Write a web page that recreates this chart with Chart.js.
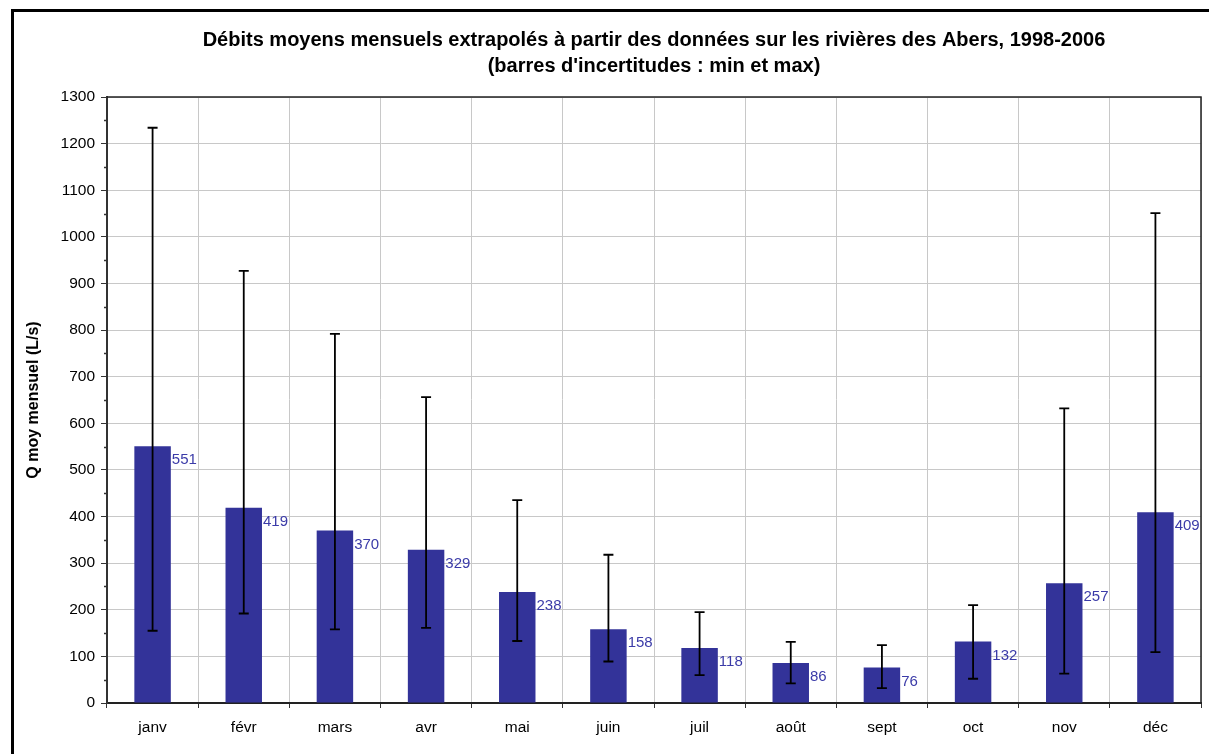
<!DOCTYPE html>
<html>
<head>
<meta charset="utf-8">
<script src="https://cdn.jsdelivr.net/npm/chart.js@4"></script>
<style>
html,body{margin:0;padding:0;background:#fff;}
canvas{display:block;}
</style>
</head>
<body>
<canvas id="c" width="1209" height="754"></canvas>
<script>
const months = ['janv','févr','mars','avr','mai','juin','juil','août','sept','oct','nov','déc'];
const meanFlow = [551,419,370,329,238,158,118,86,76,132,257,409];
const minFlow = [155,192,158,161,133,89,60,42,32,52,63,109];
const maxFlow = [1234,927,792,656,435,318,195,131,124,210,632,1051];
const yTickMin = 0, yTickMax = 1300, yTickStep = 100;
const titleLines = ['Débits moyens mensuels extrapolés à partir des données sur les rivières des Abers, 1998-2006','(barres d\'incertitudes : min et max)'];
const yTitle = 'Q moy mensuel (L/s)';

const FONT = "'Liberation Sans', Arial, sans-serif";

const extras = {
  id: 'extras',
  afterDatasetsDraw(chart) {
    const ctx = chart.ctx;
    const y = chart.scales.y;
    const area = chart.chartArea;
    ctx.save();
    // minor ticks on y axis
    ctx.strokeStyle = '#333';
    ctx.lineWidth = 1.5;
    for (let v = yTickMin + yTickStep/2; v < yTickMax; v += yTickStep) {
      const py = Math.round(y.getPixelForValue(v)) + 0.5;
      ctx.beginPath(); ctx.moveTo(area.left - 3, py); ctx.lineTo(area.left, py); ctx.stroke();
    }
    // error bars
    ctx.strokeStyle = '#000';
    ctx.lineWidth = 1.8;
    const meta = chart.getDatasetMeta(0);
    meta.data.forEach((bar, i) => {
      const cx = bar.x;
      const yMin = y.getPixelForValue(minFlow[i]);
      const yMax = y.getPixelForValue(maxFlow[i]);
      ctx.beginPath();
      ctx.moveTo(cx, yMax); ctx.lineTo(cx, yMin);
      ctx.moveTo(cx - 5, yMax); ctx.lineTo(cx + 5, yMax);
      ctx.moveTo(cx - 5, yMin); ctx.lineTo(cx + 5, yMin);
      ctx.stroke();
    });
    // data labels
    ctx.fillStyle = '#3B3BA8';
    ctx.font = '15px ' + FONT;
    ctx.textAlign = 'left';
    ctx.textBaseline = 'middle';
    meta.data.forEach((bar, i) => {
      const right = bar.x + bar.width / 2;
      ctx.fillText(String(meanFlow[i]), right + 1, bar.y + 14);
    });
    // plot frame top/right
    ctx.strokeStyle = '#222';
    ctx.lineWidth = 1.5;
    ctx.beginPath();
    ctx.moveTo(area.left, area.top); ctx.lineTo(area.right, area.top); ctx.lineTo(area.right, area.bottom);
    ctx.stroke();
    ctx.restore();
  },
  afterDraw(chart) {
    const ctx = chart.ctx;
    ctx.save();
    ctx.fillStyle = '#000';
    ctx.fillRect(11, 9, 3, chart.height);
    ctx.fillRect(11, 9, chart.width, 3);
    ctx.restore();
  }
};

new Chart(document.getElementById('c'), {
  type: 'bar',
  data: {
    labels: months,
    datasets: [{
      data: meanFlow,
      backgroundColor: '#333399',
      borderWidth: 0,
      barPercentage: 0.4,
      categoryPercentage: 1.0
    }]
  },
  options: {
    responsive: false,
    animation: false,
    devicePixelRatio: 1,
    layout: { padding: { left: 0, right: 8, top: 0, bottom: 0 } },
    plugins: {
      legend: { display: false },
      tooltip: { enabled: false },
      title: {
        display: true,
        fullSize: false,
        text: titleLines,
        color: '#000',
        font: { family: FONT, size: 20, weight: 'bold', lineHeight: 26/20 },
        padding: { top: 27, bottom: 18 }
      }
    },
    scales: {
      x: {
        afterFit(s) { s.height = 51; },
        grid: { color: '#C8C8C8', tickColor: '#333', tickLength: 5, offset: true },
        border: { color: '#222', width: 2 },
        ticks: { color: '#000', font: { family: FONT, size: 15.5 }, padding: 10, maxRotation: 0 }
      },
      y: {
        min: yTickMin,
        max: yTickMax,
        afterFit(s) { s.width = 107; },
        grid: { color: '#C8C8C8', tickColor: '#333', tickLength: 6 },
        border: { color: '#333', width: 2 },
        ticks: { stepSize: yTickStep, color: '#000', font: { family: FONT, size: 15.5 }, padding: 6,
                 callback: (v) => String(v) },
        title: {
          display: true,
          text: yTitle,
          color: '#000',
          font: { family: FONT, size: 16, weight: 'bold' },
          padding: { top: 24, bottom: 0 }
        }
      }
    }
  },
  plugins: [extras]
});
</script>
</body>
</html>
